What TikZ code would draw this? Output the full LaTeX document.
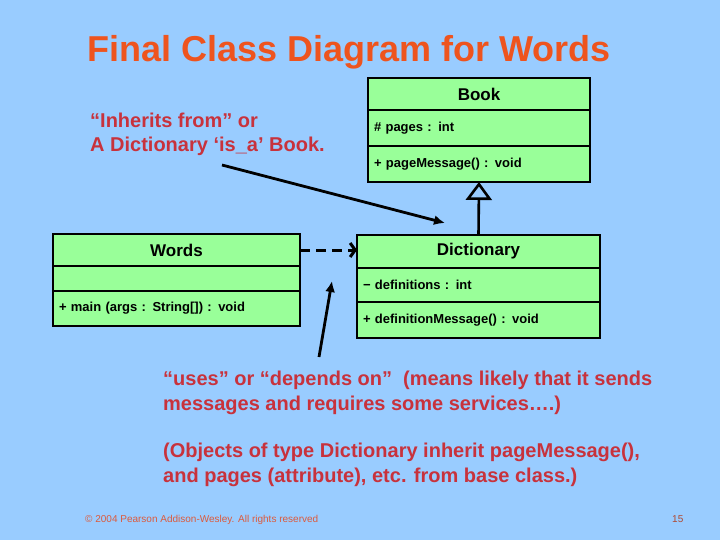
\documentclass[tikz,border=0pt]{standalone}
\usepackage{fontspec}
\setmainfont{Liberation Sans}
\usepackage{tikz}
\usetikzlibrary{positioning,arrows.meta}
\usepackage{xcolor}
\definecolor{slidebg}{HTML}{99CCFF}
\definecolor{classgreen}{HTML}{99FF99}
\definecolor{titleorange}{RGB}{238,84,30}
\definecolor{notered}{RGB}{200,50,60}
\definecolor{footred}{RGB}{220,90,60}

\begin{document}
\begin{tikzpicture}[x=1pt, y=-1pt, node distance=0pt]
\tikzstyle{head}=[draw, fill=classgreen, line width=1.6pt, outer sep=0pt, inner sep=0pt, minimum height=32pt, font=\fontsize{17}{19}\selectfont\bfseries]
\tikzstyle{row}=[draw, fill=classgreen, line width=1.6pt, outer sep=0pt, inner xsep=6pt, inner ysep=0pt, align=left, font=\fontsize{13}{15}\selectfont\bfseries]
\tikzstyle{note}=[inner sep=0pt, anchor=base west, align=left, text=notered, font=\fontsize{20}{24.5}\selectfont\bfseries]
\tikzstyle{dep}=[line width=3pt, dash pattern=on 10pt off 6pt, -{Straight Barb[length=5pt, width=14pt, line width=3pt]}]
\tikzstyle{inherit}=[line width=2.6pt, -{Triangle[open, length=18pt, width=26pt]}]
\tikzstyle{point}=[line width=2.8pt, -{Latex[length=11pt, width=10pt]}]

% slide
\fill[slidebg] (0,0) rectangle (720,540);
\node[inner sep=0pt, anchor=base west, text=titleorange, font=\fontsize{36}{40}\selectfont\bfseries] (title) at (87,62) {Final Class Diagram for Words};

% Book
\node[head, minimum width=222pt, anchor=north west] (book) at (368,78) {Book};
\node[row, text width=210pt, minimum height=36pt, below=of book] (bookattr) {\# pages : int};
\node[row, text width=210pt, minimum height=36pt, below=of bookattr] (bookops) {+ pageMessage() : void};

% Words
\node[head, minimum width=247pt, anchor=north west] (words) at (53,234) {Words};
\node[row, text width=235pt, minimum height=25pt, below=of words] (wordsattr) {};
\node[row, text width=235pt, minimum height=35pt, below=of wordsattr] (wordsops) {+ main (args : String[]) : void};

% Dictionary
\node[head, minimum width=243pt, minimum height=33pt, anchor=north west] (dict) at (357,235) {Dictionary};
\node[row, text width=231pt, minimum height=34pt, below=of dict] (dictattr) {− definitions : int};
\node[row, text width=231pt, minimum height=36pt, below=of dictattr] (dictops) {+ definitionMessage() : void};

% relations
\draw[dep] (words.east) -- (words.east -| dict.west);
\draw[inherit] (dict.north) -- (bookops.south);

% notes (base = last line)
\node[note] (isanote) at (90,152) {“Inherits from” or\\A Dictionary ‘is\_a’ Book.};
\node[note] (usesnote) at (163,410) {“uses” or “depends on”~~(means likely that it sends\\messages and requires some services\dots.)};
\node[note] (inheritnote) at (163,482) {(Objects of type Dictionary inherit pageMessage(),\\and pages (attribute), etc. from base class.)};
\coordinate (isatail) at (222,165);
\coordinate (isatip) at (445,223);
\coordinate (usestail) at (319,357);
\coordinate (usestip) at (332,281);
\draw[point] (isatail) -- (isatip);
\draw[point] (usestail) -- (usestip);

% footer
\node[inner sep=0pt, anchor=base west, text=footred, font=\fontsize{10}{11}\selectfont] (copy) at (85,522) {© 2004 Pearson Addison-Wesley. All rights reserved};
\node[inner sep=0pt, anchor=base west, text=footred!80!black, font=\fontsize{10}{11}\selectfont] (page) at (672,522) {15};
\end{tikzpicture}
\end{document}
